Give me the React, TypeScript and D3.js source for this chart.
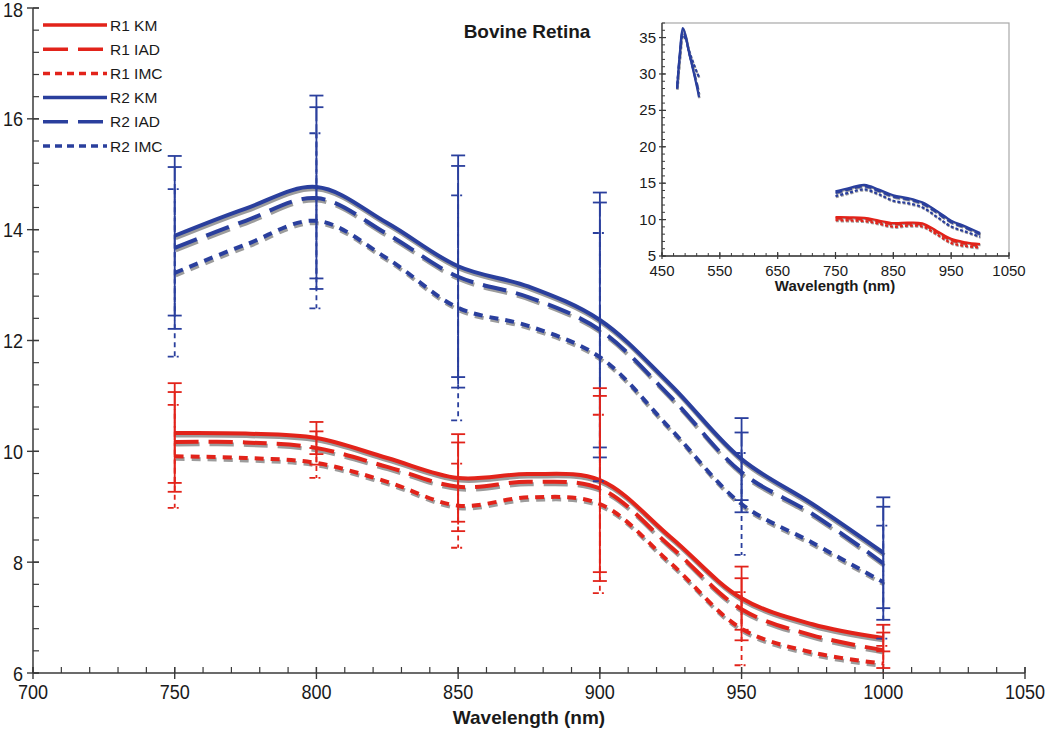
import React from 'react';
import * as d3 from 'd3';

// ---------- data ----------
const wavelengths = [750, 775, 800, 825, 850, 875, 900, 925, 950, 975, 1000];
const r1KM = [10.33, 10.32, 10.24, 9.88, 9.52, 9.59, 9.48, 8.45, 7.35, 6.88, 6.63];
const r1IAD = [10.17, 10.16, 10.06, 9.72, 9.36, 9.45, 9.33, 8.28, 7.15, 6.68, 6.41];
const r1IMC = [9.91, 9.88, 9.79, 9.45, 9.02, 9.17, 9.05, 7.98, 6.8, 6.37, 6.17];
const r2KM = [13.89, 14.38, 14.77, 14.12, 13.34, 12.97, 12.37, 11.2, 9.86, 9.05, 8.17];
const r2IAD = [13.67, 14.16, 14.57, 13.92, 13.15, 12.78, 12.19, 10.98, 9.62, 8.87, 7.98];
const r2IMC = [13.22, 13.73, 14.16, 13.48, 12.59, 12.26, 11.7, 10.4, 9.05, 8.35, 7.64];

const errorWavelengths = [750, 800, 850, 900, 950, 1000];
const r1KMErr = [0.9, 0.29, 0.79, 1.66, 0.57, 0.24];
const r1IADErr = [0.9, 0.3, 0.8, 1.67, 0.56, 0.32];
const r1IMCErr = [0.93, 0.27, 0.76, 1.61, 0.66, 0.32];
const r2KMErr = [1.44, 1.65, 2.0, 2.3, 0.74, 1.0];
const r2IADErr = [1.46, 1.64, 2.0, 2.3, 0.72, 1.02];
const r2IMCErr = [1.51, 1.58, 2.03, 2.24, 0.92, 1.02];

const insetPeakWl = [476, 481, 486, 491, 496, 501, 506, 511, 514];
const insetPeakKM = [28.0, 33.0, 36.3, 35.2, 33.2, 31.5, 29.8, 28.0, 26.8];
const insetPeakIAD = [28.0, 32.8, 35.8, 35.0, 33.2, 31.6, 30.0, 28.4, 27.3];
const insetPeakIMC = [28.0, 32.5, 35.3, 34.8, 33.4, 32.2, 31.1, 30.1, 29.6];

const xTicksMain = [700, 750, 800, 850, 900, 950, 1000, 1050];
const yTicksMain = [6, 8, 10, 12, 14, 16, 18];
const xTicksInset = [450, 550, 650, 750, 850, 950, 1050];
const yTicksInset = [5, 10, 15, 20, 25, 30, 35];

const legendLabels = ['R1 KM', 'R1 IAD', 'R1 IMC', 'R2 KM', 'R2 IAD', 'R2 IMC'];

// ---------- styles ----------
const RED = '#e2231a';
const BLUE = '#2a3f9d';
const SHADOW = '#9c9c9c';
const FONT = '"Liberation Sans", Arial, Helvetica, sans-serif';
const TEXT = '#1a1a1a';
const AXIS = '#3a3a3a';

type Style = 'solid' | 'long' | 'short';
const dashMain: Record<Style, string | undefined> = { solid: undefined, long: '24,10', short: '9,7' };
const dashInset: Record<Style, string | undefined> = { solid: undefined, long: '7,3', short: '3,2' };

const series = [
  { name: legendLabels[0], color: RED, style: 'solid' as Style, values: r1KM, err: r1KMErr },
  { name: legendLabels[1], color: RED, style: 'long' as Style, values: r1IAD, err: r1IADErr },
  { name: legendLabels[2], color: RED, style: 'short' as Style, values: r1IMC, err: r1IMCErr },
  { name: legendLabels[3], color: BLUE, style: 'solid' as Style, values: r2KM, err: r2KMErr },
  { name: legendLabels[4], color: BLUE, style: 'long' as Style, values: r2IAD, err: r2IADErr },
  { name: legendLabels[5], color: BLUE, style: 'short' as Style, values: r2IMC, err: r2IMCErr },
];
const insetPeaks = [
  { style: 'solid' as Style, values: insetPeakKM },
  { style: 'long' as Style, values: insetPeakIAD },
  { style: 'short' as Style, values: insetPeakIMC },
];

export default function App() {
  // main scales
  const x = d3.scaleLinear().domain([700, 1050]).range([33, 1025]);
  const y = d3.scaleLinear().domain([6, 18]).range([673, 8]);
  // inset scales
  const xi = d3.scaleLinear().domain([450, 1050]).range([662, 1009]);
  const yi = d3.scaleLinear().domain([5, 37]).range([256, 23]);

  const line = d3
    .line<number>()
    .x((_, i) => x(wavelengths[i]))
    .y((d) => y(d))
    .curve(d3.curveCatmullRom.alpha(0.5));
  const lineInset = d3
    .line<number>()
    .x((_, i) => xi(wavelengths[i]))
    .y((d) => yi(d))
    .curve(d3.curveCatmullRom.alpha(0.5));
  const linePeak = d3
    .line<number>()
    .x((_, i) => xi(insetPeakWl[i]))
    .y((d) => yi(d))
    .curve(d3.curveCatmullRom.alpha(0.5));

  const xMinor = d3.range(700, 1050.1, 10);
  const yMinor = d3.range(6, 18.01, 0.4);
  const xiMinor = d3.range(450, 1050.1, 20);
  const yiMinor = d3.range(5, 37.01, 1);

  const errIdx = errorWavelengths.map((w) => wavelengths.indexOf(w));

  return (
    <svg
      width={1050}
      height={739}
      style={{ position: 'absolute', left: 0, top: 0, background: '#fff' }}
      fontFamily={FONT}
    >
      <defs>
        <clipPath id="mainClip">
          <rect x={33} y={0} width={1000} height={673} />
        </clipPath>
      </defs>

      {/* main axes */}
      <g>
        <line x1={33} x2={1025} y1={673} y2={673} stroke={AXIS} strokeWidth={1.5} />
        <line x1={33} x2={33} y1={673} y2={8} stroke={AXIS} strokeWidth={1.5} />
        {xMinor.map((v) => (
          <line key={'xm' + v} x1={x(v)} x2={x(v)} y1={673} y2={667} stroke={AXIS} strokeWidth={1.2} />
        ))}
        {xTicksMain.map((v) => (
          <g key={'xt' + v}>
            <line x1={x(v)} x2={x(v)} y1={667} y2={679} stroke={AXIS} strokeWidth={1.4} />
            <text transform={`translate(${x(v)},699) scale(0.88,1)`} textAnchor="middle" fontSize={20.5} fill={TEXT}>
              {v}
            </text>
          </g>
        ))}
        {yMinor.map((v) => (
          <line key={'ym' + v} x1={33} x2={39} y1={y(v)} y2={y(v)} stroke={AXIS} strokeWidth={1.2} />
        ))}
        {yTicksMain.map((v) => (
          <g key={'yt' + v}>
            <line x1={27} x2={39} y1={y(v)} y2={y(v)} stroke={AXIS} strokeWidth={1.4} />
            <text
              transform={`translate(23,${Math.max(y(v) + 7.5, 17)}) scale(0.88,1)`}
              textAnchor="end"
              fontSize={20.5}
              fill={TEXT}
            >
              {v}
            </text>
          </g>
        ))}
        <text x={529} y={724} textAnchor="middle" fontSize={19} fontWeight="bold" fill={TEXT}>
          Wavelength (nm)
        </text>
      </g>

      {/* title */}
      <text x={527} y={38} textAnchor="middle" fontSize={19} fontWeight="bold" fill={TEXT}>
        Bovine Retina
      </text>

      {/* main curves */}
      <g clipPath="url(#mainClip)">
        {series.map((s) => (
          <path
            key={'sh' + s.name}
            d={line(s.values) || ''}
            transform="translate(1,2.5)"
            fill="none"
            stroke={SHADOW}
            strokeWidth={4}
            strokeDasharray={dashMain[s.style]}
          />
        ))}
        {series.map((s) => (
          <path
            key={'ln' + s.name}
            d={line(s.values) || ''}
            fill="none"
            stroke={s.color}
            strokeWidth={4}
            strokeDasharray={dashMain[s.style]}
          />
        ))}
        {/* error bars */}
        {[3, 4, 5, 0, 1, 2].map((si) => {
          const s = series[si];
          return errorWavelengths.map((w, k) => {
            const c = s.values[errIdx[k]];
            const e = s.err[k];
            const px = x(w);
            const top = y(c + e);
            const bot = y(c - e);
            const vDash = s.style === 'solid' ? undefined : s.style === 'long' ? '14,3' : '5,4';
            const cDash = s.style === 'short' ? '6,3,2,3' : undefined;
            return (
              <g key={'eb' + s.name + w}>
                <line x1={px} x2={px} y1={top} y2={bot} stroke={s.color} strokeWidth={1.8} strokeDasharray={vDash} />
                <line x1={px - 7} x2={px + 7} y1={top} y2={top} stroke={s.color} strokeWidth={1.8} strokeDasharray={cDash} />
                <line x1={px - 7} x2={px + 7} y1={bot} y2={bot} stroke={s.color} strokeWidth={1.8} strokeDasharray={cDash} />
              </g>
            );
          });
        })}
      </g>

      {/* legend */}
      <g>
        {series.map((s, i) => {
          const ly = 25 + i * 24.2;
          return (
            <g key={'lg' + s.name}>
              <line x1={43} x2={107} y1={ly} y2={ly} stroke={s.color} strokeWidth={3.5} strokeDasharray={s.style === 'solid' ? undefined : s.style === 'long' ? '25,10' : '7,5'} />
              <text x={110} y={ly + 5.5} fontSize={15.5} fill={TEXT}>
                {s.name}
              </text>
            </g>
          );
        })}
      </g>

      {/* inset */}
      <g>
        <rect x={662} y={23} width={347} height={233} fill="#fff" stroke="#a8a8a8" strokeWidth={1.2} />
        <line x1={662} x2={1009} y1={256} y2={256} stroke={AXIS} strokeWidth={1.3} />
        <line x1={662} x2={662} y1={256} y2={23} stroke={AXIS} strokeWidth={1.3} />
        {xiMinor.map((v) => (
          <line key={'xim' + v} x1={xi(v)} x2={xi(v)} y1={256} y2={253} stroke={AXIS} strokeWidth={1} />
        ))}
        {xTicksInset.map((v) => (
          <g key={'xit' + v}>
            <line x1={xi(v)} x2={xi(v)} y1={252} y2={259} stroke={AXIS} strokeWidth={1.2} />
            <text x={xi(v)} y={276} textAnchor="middle" fontSize={15} fill={TEXT}>
              {v}
            </text>
          </g>
        ))}
        {yiMinor.map((v) => (
          <line key={'yim' + v} x1={662} x2={665} y1={yi(v)} y2={yi(v)} stroke={AXIS} strokeWidth={1} />
        ))}
        {yTicksInset.map((v) => (
          <g key={'yit' + v}>
            <line x1={659} x2={666} y1={yi(v)} y2={yi(v)} stroke={AXIS} strokeWidth={1.2} />
            <text x={656} y={yi(v) + 5} textAnchor="end" fontSize={15} fill={TEXT}>
              {v}
            </text>
          </g>
        ))}
        <text x={835} y={291} textAnchor="middle" fontSize={15} fontWeight="bold" fill={TEXT}>
          Wavelength (nm)
        </text>
        {series.map((s) => (
          <path key={'ish' + s.name} d={lineInset(s.values) || ''} transform="translate(0.5,1)" fill="none" stroke={SHADOW} strokeWidth={2.2} strokeDasharray={dashInset[s.style]} />
        ))}
        {series.map((s) => (
          <path key={'iln' + s.name} d={lineInset(s.values) || ''} fill="none" stroke={s.color} strokeWidth={2.2} strokeDasharray={dashInset[s.style]} />
        ))}
        {insetPeaks.map((p, i) => (
          <path key={'ipsh' + i} d={linePeak(p.values) || ''} transform="translate(0.5,1)" fill="none" stroke={SHADOW} strokeWidth={2.2} strokeDasharray={dashInset[p.style]} />
        ))}
        {insetPeaks.map((p, i) => (
          <path key={'ip' + i} d={linePeak(p.values) || ''} fill="none" stroke={BLUE} strokeWidth={2.2} strokeDasharray={dashInset[p.style]} />
        ))}
      </g>
    </svg>
  );
}
